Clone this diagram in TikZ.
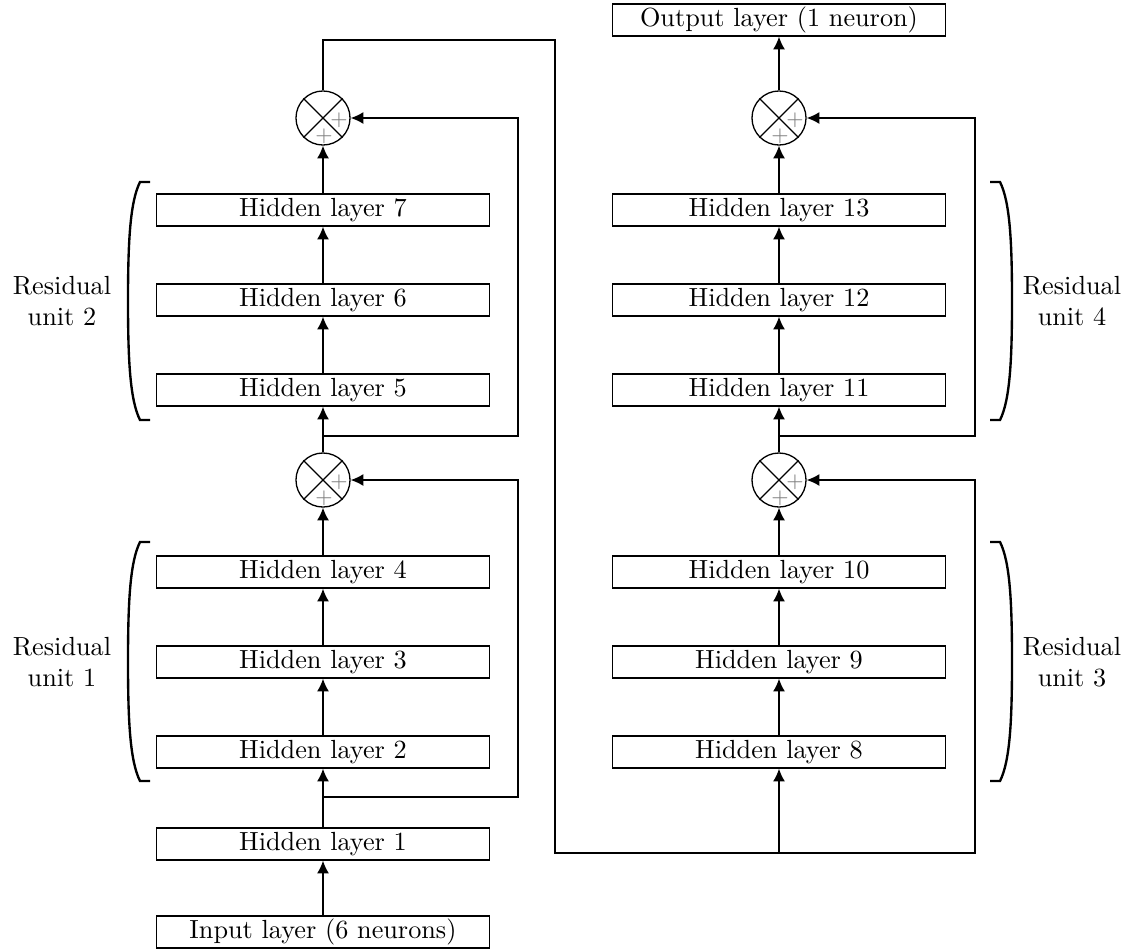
\documentclass[tikz,border=0pt]{standalone}
\usepackage{tikz}
\usetikzlibrary{arrows.meta}

\begin{document}
\begin{tikzpicture}[x=0.0134cm,y=-0.0134cm,line width=0.5pt,
    layer/.style={draw,minimum width=4.46cm,minimum height=0.43cm,inner sep=0pt},
    adder/.style={draw,circle,minimum size=0.724cm,inner sep=0pt},
    plus/.style={text=gray,font=\footnotesize,inner sep=0pt},
    flow/.style={-{Latex[length=1.7mm,width=1.6mm]}}]
        \def\L{323}
        \def\R{779}

        \useasboundingbox (0,0) rectangle (1136,950);

        %------------------
        % 層
        %------------------

        % 左の列
        \node[layer] (in) at (\L,932) {Input layer (6 neurons)};
        \node[layer] (h1) at (\L,844) {Hidden layer 1};
        \node[layer] (h2) at (\L,752) {Hidden layer 2};
        \node[layer] (h3) at (\L,662) {Hidden layer 3};
        \node[layer] (h4) at (\L,572) {Hidden layer 4};
        \node[adder] (s1) at (\L,480) {};
        \node[layer] (h5) at (\L,390) {Hidden layer 5};
        \node[layer] (h6) at (\L,300) {Hidden layer 6};
        \node[layer] (h7) at (\L,210) {Hidden layer 7};
        \node[adder] (s2) at (\L,118) {};

        % 右の列
        \node[layer] (h8) at (\R,752) {Hidden layer 8};
        \node[layer] (h9) at (\R,662) {Hidden layer 9};
        \node[layer] (h10) at (\R,572) {Hidden layer 10};
        \node[adder] (s3) at (\R,480) {};
        \node[layer] (h11) at (\R,390) {Hidden layer 11};
        \node[layer] (h12) at (\R,300) {Hidden layer 12};
        \node[layer] (h13) at (\R,210) {Hidden layer 13};
        \node[adder] (s4) at (\R,118) {};
        \node[layer] (out) at (\R,20) {Output layer (1 neuron)};

        % 加算器の記号
        \foreach \s in {s1,s2,s3,s4}{
          \draw (\s.north west) -- (\s.south east);
          \draw (\s.north east) -- (\s.south west);
          \node[plus] at ([shift={(16,2)}]\s.center) {$+$};
          \node[plus] at ([shift={(1,18)}]\s.center) {$+$};
        }

        %------------------
        % 矢印
        %------------------

        \draw[flow] (in) -- (h1);
        \draw[flow] (h1) -- (h2);
        \draw[flow] (h2) -- (h3);
        \draw[flow] (h3) -- (h4);
        \draw[flow] (h4) -- (s1);
        \draw[flow] (s1) -- (h5);
        \draw[flow] (h5) -- (h6);
        \draw[flow] (h6) -- (h7);
        \draw[flow] (h7) -- (s2);

        \draw[flow] (h8) -- (h9);
        \draw[flow] (h9) -- (h10);
        \draw[flow] (h10) -- (s3);
        \draw[flow] (s3) -- (h11);
        \draw[flow] (h11) -- (h12);
        \draw[flow] (h12) -- (h13);
        \draw[flow] (h13) -- (s4);
        \draw[flow] (s4) -- (out);

        % ショートカット
        \coordinate (b1) at (\L,797);
        \coordinate (b2) at (\L,436);
        \coordinate (b3) at (\R,853);
        \coordinate (b4) at (\R,436);
        \draw[flow] (b1) -- (518,797) |- (s1.east);
        \draw[flow] (b2) -- (518,436) |- (s2.east);
        \draw[flow] (b3) -- (975,853) |- (s3.east);
        \draw[flow] (b4) -- (975,436) |- (s4.east);

        % 列の間
        \draw[flow] (s2.north) |- (555,40) |- (b3) -- (h8.south);

        %------------------
        % 括弧
        %------------------

        \foreach \t/\b in {182/420,542/781}{
          \draw[line width=0.9pt] (150,\t) -- (140,\t)
            .. controls (130,\t+20) and (128,\t+60) .. (128,{(\t+\b)/2})
            .. controls (128,\b-60) and (130,\b-20) .. (140,\b) -- (150,\b);
          \draw[line width=0.9pt] (990,\t) -- (1000,\t)
            .. controls (1010,\t+20) and (1012,\t+60) .. (1012,{(\t+\b)/2})
            .. controls (1012,\b-60) and (1010,\b-20) .. (1000,\b) -- (990,\b);
        }

        % ラベル
        \node[align=center] (r2) at (62,301) {Residual\\unit 2};
        \node[align=center] (r1) at (62,662) {Residual\\unit 1};
        \node[align=center] (r4) at (1072,301) {Residual\\unit 4};
        \node[align=center] (r3) at (1072,662) {Residual\\unit 3};
      \end{tikzpicture}
\end{document}
